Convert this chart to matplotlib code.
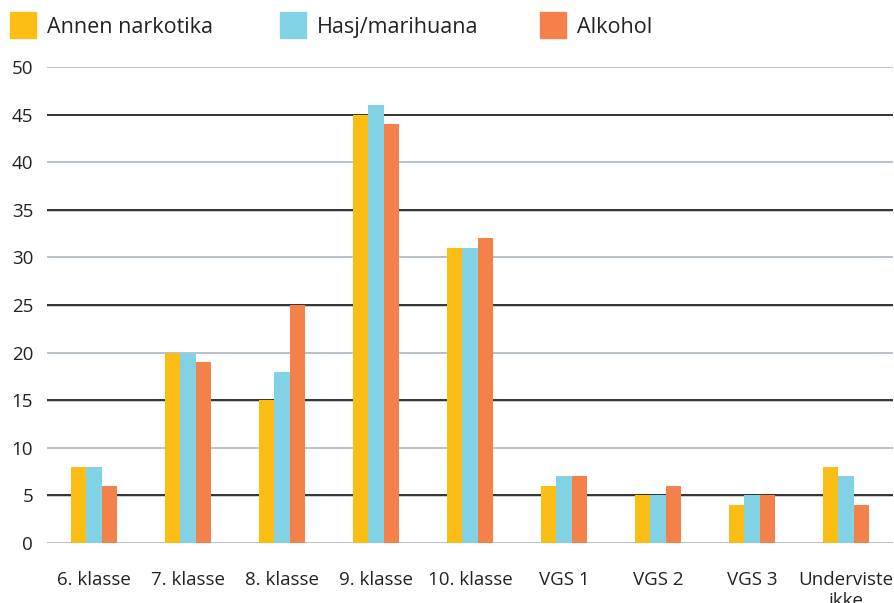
import matplotlib
matplotlib.use("Agg")
import matplotlib.pyplot as plt
import numpy as np
from matplotlib.patches import Rectangle

plt.rcParams['font.family'] = ['Open Sans', 'DejaVu Sans']

categories = ["6. klasse", "7. klasse", "8. klasse", "9. klasse", "10. klasse",
              "VGS 1", "VGS 2", "VGS 3", "Underviste\nikke"]
series_names = ["Annen narkotika", "Hasj/marihuana", "Alkohol"]
annen = [8, 20, 15, 45, 31, 6, 5, 4, 8]
hasj = [8, 20, 18, 46, 31, 7, 5, 5, 7]
alkohol = [6, 19, 25, 44, 32, 7, 6, 5, 4]
colors = ["#FCBE14", "#82D2E6", "#F4804A"]
y_ticks = [0, 5, 10, 15, 20, 25, 30, 35, 40, 45, 50]

W, H = 895, 603
fig = plt.figure(figsize=(W / 100, H / 100), dpi=100)
ax = fig.add_axes([47 / W, (H - 543) / H, (893 - 47) / W, (543 - 67) / H])

x = np.arange(len(categories))
bw = 0.163
step = 0.168
for i, (vals, c) in enumerate(zip([annen, hasj, alkohol], colors)):
    ax.bar(x + (i - 1) * step, vals, width=bw, color=c, linewidth=0, zorder=3)

ax.set_xlim(-0.5, len(categories) - 0.5)
ax.set_ylim(0, 50)
ax.set_yticks(y_ticks)
ax.set_xticks(x)
ax.set_xticklabels(categories, linespacing=1.25)
for t in y_ticks:
    if t % 10 == 0:
        ax.axhline(t, color="#b9c1c9", linewidth=1.4, zorder=1)
    else:
        ax.axhline(t - 0.08, color="#c8cdd2", linewidth=1.4, zorder=1)
        ax.axhline(t, color="#333333", linewidth=1.4, zorder=2)

for s in ax.spines.values():
    s.set_visible(False)
ax.tick_params(axis='both', length=0, colors="#222222")
ax.tick_params(axis='y', pad=10, labelsize=13.5)
ax.tick_params(axis='x', pad=20, labelsize=13.5)
for lbl in ax.get_yticklabels():
    lbl.set_horizontalalignment('right')

# legend
leg_x = [10, 280, 540]
for lx, name, c in zip(leg_x, series_names, colors):
    fig.patches.append(Rectangle((lx / W, (H - 38) / H), 26 / W, 26 / H,
                                 transform=fig.transFigure, color=c))
    fig.text((lx + 37) / W, (H - 33) / H, name, fontsize=15.5,
             va='baseline', ha='left', color="#222222")

fig.savefig("out.png", dpi=100)
